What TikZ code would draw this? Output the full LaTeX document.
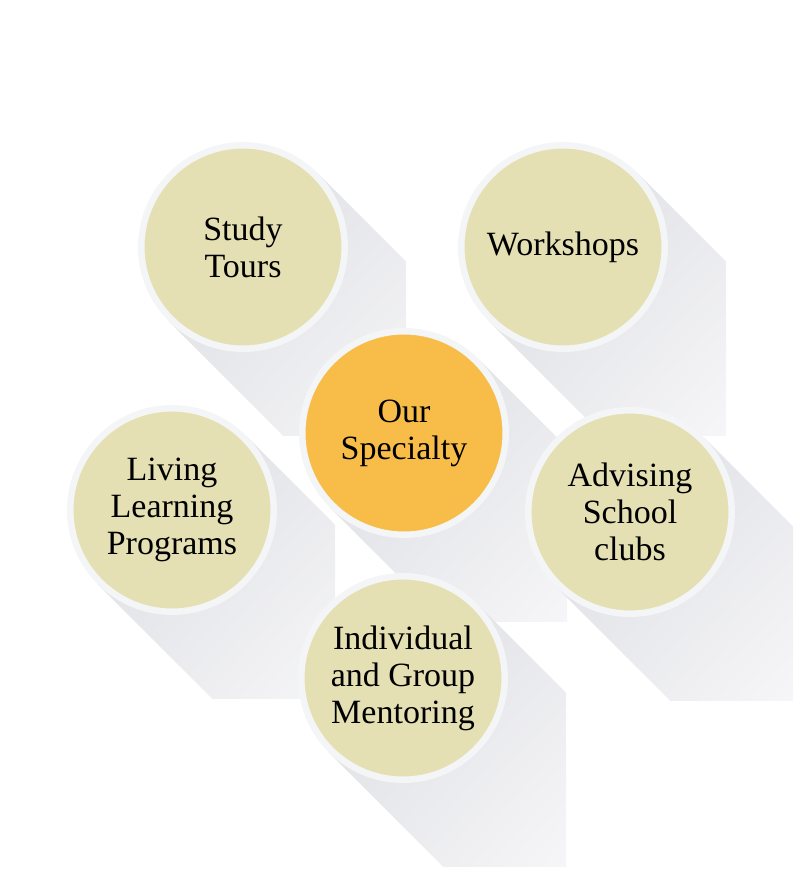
\documentclass[tikz,border=0pt]{standalone}
\usepackage{fontspec}
\setmainfont{Liberation Serif}
\usetikzlibrary{calc,shadings}
\definecolor{beige}{HTML}{E5E0B3}
\definecolor{amber}{HTML}{F7BD48}
\definecolor{ring}{HTML}{F4F5F6}
\definecolor{shadedark}{HTML}{D9DAE0}
\definecolor{shadelight}{HTML}{F6F6F8}
\tikzset{
  topic/.style={circle,fill=beige,draw=ring,line width=3.25pt,
    minimum size=101.75pt,inner sep=0pt,align=center,
    font=\fontsize{17}{18.5}\selectfont},
  hub/.style={topic,fill=amber}
}

\begin{document}
\begin{tikzpicture}[x=0.5pt,y=-0.5pt]
  \useasboundingbox (0,0) rectangle (811,878);
  % long shadows, drawn under the circles
  \foreach \cx/\cy in {243/247,563/247,404/433,172/510,630/512,403/678}{
    \begin{scope}
      \clip (\cx-105,\cy-105) rectangle (\cx+163,\cy+188);
      \clip (\cx+74.25,\cy-74.25) -- (\cx+474.25,\cy+325.75)
        -- (\cx+325.75,\cy+474.25) -- (\cx-74.25,\cy+74.25) -- cycle;
      \shade[upper left=shadedark,upper right=shadedark!55!shadelight,
        lower left=shadedark!55!shadelight,lower right=shadelight]
        (\cx-105,\cy-105) rectangle (\cx+163,\cy+188);
    \end{scope}
  }
  \node[topic] (tours) at (243,247) {Study\\Tours};
  \node[topic] (workshops) at (563,247) {Workshops};
  \node[hub] (specialty) at (404,433) {Our\\Specialty};
  \node[topic] (living) at (172,510) {Living\\Learning\\Programs};
  \node[topic] (advising) at (630,512) {Advising\\School\\clubs};
  \node[topic] (mentoring) at (403,678) {Individual\\and Group\\Mentoring};
\end{tikzpicture}
\end{document}
